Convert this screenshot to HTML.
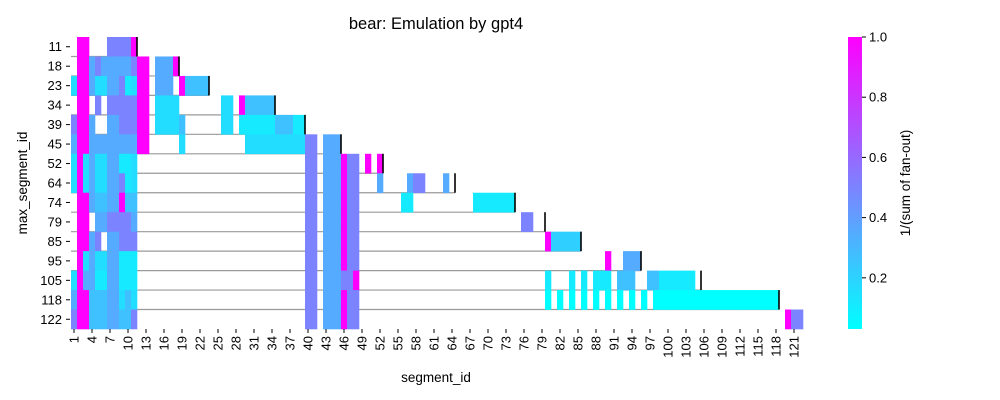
<!DOCTYPE html>
<html><head><meta charset="utf-8"><style>
html,body{margin:0;padding:0;background:#fff;}
svg{display:block;font-family:"Liberation Sans","DejaVu Sans",sans-serif;}
</style></head><body>
<svg id="chart" width="1000" height="400" viewBox="0 0 1000 400" xmlns="http://www.w3.org/2000/svg">
<defs><linearGradient id="cool" x1="0" y1="1" x2="0" y2="0"><stop offset="0" stop-color="#00ffff"/><stop offset="1" stop-color="#ff00ff"/></linearGradient></defs>
<text x="436" y="29" text-anchor="middle" font-size="16.5">bear: Emulation by gpt4</text>
<g id="grid"></g>
<g id="cells"></g>
<g id="ends"></g>
<g id="yaxis"></g>
<g id="xaxis"></g>
<text x="436" y="382" text-anchor="middle" font-size="13.5">segment_id</text>
<text transform="translate(27,183) rotate(-90)" text-anchor="middle" font-size="13.5">max_segment_id</text>
<rect x="848" y="37" width="14" height="292" fill="url(#cool)"/>
<g id="cbar"></g>
<text transform="translate(910,183) rotate(-90)" text-anchor="middle" font-size="13.5">1/(sum of fan-out)</text>
</svg>
<script>
// data
const rowLabels = [11,18,23,34,39,45,52,64,74,79,85,95,105,118,122];
const codeValues = {M:1.0, P:0.5, B:0.35, L:0.27, C:0.21, D:0.16, E:0.11, F:0.03};
const rowSegments = [
 [[1,".MM...PPPPM"]],
 [[1,".MMBPBBBBBPMM.BBBM"]],
 [[1,"DMMBDDBBPEDMM.BBB.MLLLL"]],
 [[1,".MM.P.PPPPPMM.DDDD"],[26,"DD.MLLLLL"]],
 [[1,"PMMB..BBPPPMM.DDDDL"],[26,"DD.EEEEEELLLEE"]],
 [[1,"BMMBBBBBBBBMM.....D"],[30,"DDDDDDDDDDPP.BBB"]],
 [[1,"DMDBDDBBEED"],[40,"PP.BBBMPP.M.M"]],
 [[1,"DMDBDDBBPED"],[40,"PP.BBBMPP"],[52,"B"],[57,"BPP"],[63,"B"]],
 [[1,".MMBLLBBMLL"],[40,"PP.BBBMPP"],[56,"EE"],[68,"EEEEEEE"]],
 [[1,".MM.BBPPPPB"],[40,"PP.BBBMPP"],[76,"PP"]],
 [[1,".MMBP.BBPPP"],[40,"PP.BBBMPP"],[80,"MCCCCC"]],
 [[1,".MDBDDBBEEE"],[40,"PP.BBBMPP"],[90,"M..BBB"]],
 [[1,"DMBBEEBBEEE"],[40,"PP.BBBPPM"],[80,"E...E.E.EEE.LLL..LLEEEEEE"]],
 [[1,"BMMLLLBBDLD"],[40,"PP.BBBMPP"],[80,"F.F.F.F.F.F.F.F.F."],[98,"FFFFFFFFFFFFFFFFFFFFF"]],
 [[1,"PMMLLLBBLLP"],[40,"PP.BBBMPP"],[120,"MPP"]]
];
const xTickLabels = [1,4,7,10,13,16,19,22,25,28,31,34,37,40,43,46,49,52,55,58,61,64,67,70,73,76,79,82,85,88,91,94,97,100,103,106,109,112,115,118,121];
const cbarTicks = [0.2,0.4,0.6,0.8,1.0];
const vmin = 0.03, vmax = 1.0, nCols = 122;

const NS="http://www.w3.org/2000/svg";
const plotLeft=71, plotTop=37, plotBottom=329, cw=6.0, rh=(plotBottom-plotTop)/rowLabels.length;
const xCol = c => plotLeft + (c-1)*cw;
const yRow = i => plotTop + i*rh;
const cbY = v => 329 - (v-vmin)/(vmax-vmin)*292;
function color(v){const t=Math.max(0,Math.min(1,(v-vmin)/(vmax-vmin)));return `rgb(${Math.round(255*t)},${Math.round(255*(1-t))},255)`;}
function mk(tag,attrs,parent){const e=document.createElementNS(NS,tag);for(const k in attrs)e.setAttribute(k,attrs[k]);parent.appendChild(e);return e;}
const gGrid=document.getElementById('grid'),gCells=document.getElementById('cells'),gEnds=document.getElementById('ends'),gY=document.getElementById('yaxis'),gX=document.getElementById('xaxis'),gC=document.getElementById('cbar');

rowLabels.forEach((lab,i)=>{
  if(i<rowLabels.length-1){
    const l=mk('line',{x1:plotLeft,x2:xCol(lab+1),y1:yRow(i+1),y2:yRow(i+1),stroke:'#9a9a9a','stroke-width':1.2},gGrid);
    
    
  }
  rowSegments[i].forEach(([start,str])=>{
    for(let k=0;k<str.length;k++){
      const ch=str[k]; if(ch==='.') continue;
      const c=start+k;
      const r=mk('rect',{x:xCol(c),y:yRow(i),width:cw+0.3,height:rh+0.3,fill:color(codeValues[ch])},gCells);
      
      
    }
  });
  if(lab<nCols){
    const e=mk('line',{x1:xCol(lab+1),x2:xCol(lab+1),y1:yRow(i),y2:yRow(i+1),stroke:'#000','stroke-width':1.6},gEnds);
    
    
  }
  const yc=yRow(i)+rh/2;
  const tk=mk('line',{x1:66,x2:70,y1:yc,y2:yc,stroke:'#000','stroke-width':1},gY);
  
  
  const t=mk('text',{x:62,y:yc+4.5,'text-anchor':'end','font-size':13},gY);
  
  
  t.textContent=lab;
});
xTickLabels.forEach(v=>{
  const xc=xCol(v)+cw/2;
  const tk=mk('line',{x1:xc,x2:xc,y1:329,y2:333,stroke:'#000','stroke-width':1},gX);
  
  
  const t=mk('text',{transform:`translate(${xc+4.5},336) rotate(-90)`,'text-anchor':'end','font-size':13},gX);
  
  
  t.textContent=v;
});
cbarTicks.forEach(v=>{
  const y=cbY(v);
  const tk=mk('line',{x1:862,x2:866,y1:y,y2:y,stroke:'#000','stroke-width':1},gC);
  
  
  const t=mk('text',{x:869,y:y+4.5,'font-size':13},gC);
  
  
  t.textContent=v.toFixed(1);
});
</script>
</body></html>
